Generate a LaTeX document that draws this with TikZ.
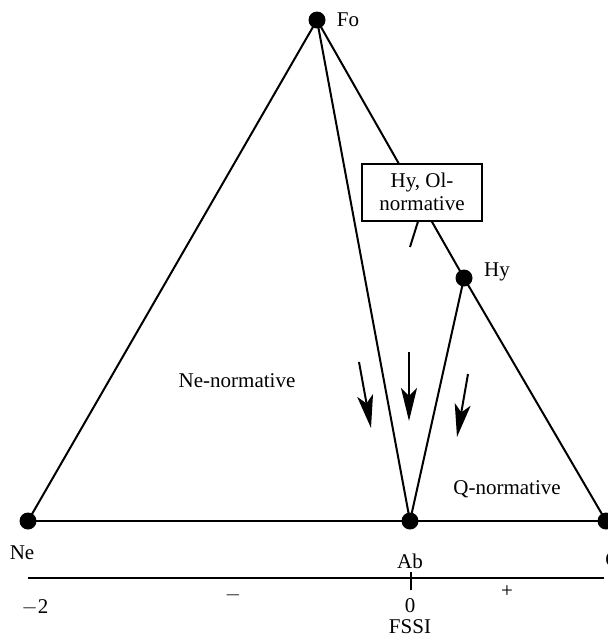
\documentclass[tikz,border=0pt]{standalone}
\usepackage{fontspec}
\setmainfont{Liberation Serif}
\usetikzlibrary{arrows.meta}
\begin{document}
\begin{tikzpicture}[x=1pt,y=-1pt,
  dot/.style={circle,fill=black,inner sep=0pt,minimum size=17pt},
  edge/.style={line width=2pt},
  lab/.style={font=\fontsize{21}{24}\selectfont,inner sep=0pt},
  flow/.style={line width=2pt,-{Stealth[length=33pt,width=16pt,inset=8pt]}},
  every node/.style={font=\fontsize{21}{24}\selectfont}]
\useasboundingbox (0,0) rectangle (608,638);
% vertices
\node[dot] (Fo) at (317,20) {};
\node[dot] (Ne) at (28,521) {};
\node[dot] (Ab) at (410,521) {};
\node[dot] (Q) at (606,521) {};
\node[dot] (Hy) at (464,278) {};
% edges
\draw[edge] (Fo.center) -- (Ne.center);
\draw[edge] (Fo.center) -- (Ab.center);
\draw[edge] (Fo.center) -- (Hy.center);
\draw[edge] (Hy.center) -- (Q.center);
\draw[edge] (Hy.center) -- (Ab.center);
\draw[edge] (Ne.center) -- (Q.center);
% box
\node[draw,line width=2pt,fill=white,align=center,inner sep=0pt,minimum width=120pt,minimum height=57pt] (box) at (422,192) {Hy, Ol-\\[-1pt]normative};
\coordinate (boxend) at (410,247);
\draw[edge] (box.south) ++(-4,0) coordinate (boxstart) -- (boxend);
% vertex labels
\node[lab] (lFo) at (348,20) {Fo};
\node[lab] (lHy) at (497,272) {Hy};
\node[lab] (lNe) at (22,553) {Ne};
\node[lab] (lAb) at (410,561) {Ab};
\node[lab] (lQ) at (613,561) {Q};
% region labels
\node[lab] (nen) at (237,381) {Ne-normative};
\node[lab] (qn) at (507,489) {Q-normative};
% flow arrows
\coordinate (a1s) at (359,362); \coordinate (a1e) at (371,428);
\coordinate (a2s) at (409,352); \coordinate (a2e) at (409,421);
\coordinate (a3s) at (468,374); \coordinate (a3e) at (457,437);
\draw[flow] (a1s) -- (a1e);
\draw[flow] (a2s) -- (a2e);
\draw[flow] (a3s) -- (a3e);
% axis
\coordinate (axL) at (28,578);
\coordinate (axR) at (604,578);
\draw[line width=2pt] (axL) -- (axR);
\coordinate (tkT) at (411,572);
\coordinate (tkB) at (411,590);
\draw[line width=2pt] (tkT) -- (tkB);
\node[lab] (m2) at (35,607) {$-$2};
\node[lab] (minus) at (233,595) {$-$};
\node[lab] (zero) at (410,606) {0};
\node[lab] (plus) at (507,592) {+};
\node[lab] (one) at (613,606) {1};
\node[lab] (fssi) at (410,627) {FSSI};
\end{tikzpicture}
\end{document}
